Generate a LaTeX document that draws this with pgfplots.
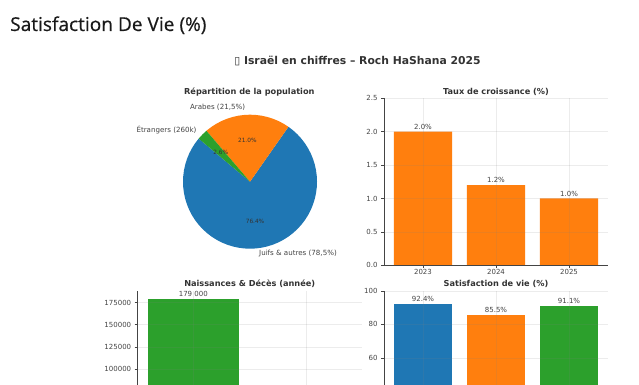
\documentclass[border=0pt]{standalone}
\usepackage{fontspec}
\setmainfont{DejaVu Sans}
\newfontfamily\hdr[FakeBold=0.5]{Open Sans}
\usepackage{pgfplots}
\pgfplotsset{compat=1.18}
\definecolor{cb}{HTML}{1F77B4}
\definecolor{co}{HTML}{FF7F0E}
\definecolor{cg}{HTML}{2CA02C}
\definecolor{tx}{HTML}{444444}
\definecolor{tt}{HTML}{333333}
\pgfplotsset{
  panel/.style={
    scale only axis, width=224pt, height=167pt, anchor=south west,
    axis lines*=left, axis line style={color=tx,line width=0.7pt,-},
    tick style={color=tx,line width=0.5pt}, tick align=outside,
    major tick length=3pt,
    grid=major, grid style={color=gray,opacity=0.15,line width=0.5pt},
    axis on top,
    tick label style={font=\fontsize{7}{8}\selectfont,text=tx},
    xticklabel style={yshift=2.5pt},
    /pgf/number format/assume math mode=true,
    /pgf/number format/1000 sep={},
    /pgf/number format/fixed,
    scaled y ticks=false,
    title style={font=\fontsize{8.2}{9}\selectfont\bfseries,text=tt,at={(0.5,1)},anchor=base,inner sep=0pt,yshift=-2pt},
    ybar, bar width=0.8, 
    point meta=explicit symbolic,
    nodes near coords,
    nodes near coords style={font=\fontsize{7}{8}\selectfont,text=tx,anchor=south,inner sep=2pt},
    clip=false,
  },
  bar/.style={fill=#1,draw=none,bar shift=0pt}
}
\begin{document}
\begin{tikzpicture}[x=1pt,y=1pt]
\path[use as bounding box,clip] (0,0) rectangle (639,385);
\fill[white] (0,0) rectangle (639,385);
\node[anchor=base west,inner sep=0pt,text=black!90] at (10,354) {\hdr\fontsize{19.1}{22}\selectfont Satisfaction De Vie (\%)};
\node[anchor=base,inner sep=0pt,text=tt] at (357.5,320.5) {\fontsize{10.8}{12}\selectfont\bfseries ▯ Israël en chiffres – Roch HaShana 2025};

% pie
\begin{axis}[at={(162.9pt,116.2pt)},anchor=south west,scale only axis,width=174.2pt,height=174.2pt,
  xmin=-1.3,xmax=1.3,ymin=-1.3,ymax=1.3,hide axis,clip=false]
\addplot[fill=cb,draw=none,data cs=polar] coordinates {(0,0) (140,1) (145,1) (150,1) (155,1) (160,1) (165,1) (170,1) (175,1) (180,1) (185,1) (190,1) (195,1) (200,1) (205,1) (210,1) (215,1) (220,1) (225,1) (230,1) (235,1) (240,1) (245,1) (250,1) (255,1) (260,1) (265,1) (270,1) (275,1) (280,1) (285,1) (290,1) (295,1) (300,1) (305,1) (310,1) (315,1) (320,1) (325,1) (330,1) (335,1) (340,1) (345,1) (350,1) (355,1) (360,1) (365,1) (370,1) (375,1) (380,1) (385,1) (390,1) (395,1) (400,1) (405,1) (410,1) (415,1)};
\addplot[fill=co,draw=none,data cs=polar] coordinates {(0,0) (55,1) (60,1) (65,1) (70,1) (75,1) (80,1) (85,1) (90,1) (95,1) (100,1) (105,1) (110,1) (115,1) (120,1) (125,1) (130,1) (130.6,1)};
\addplot[fill=cg,draw=none,data cs=polar] coordinates {(0,0) (130.6,1) (135,1) (140,1)};
\node[text=tx,font=\fontsize{7.1}{8}\selectfont] at (axis cs:-0.484,1.105) {Arabes (21,5\%)};
\node[text=tx,font=\fontsize{7.1}{8}\selectfont] at (axis cs:-1.246,0.77) {Étrangers (260k)};
\node[text=tx,font=\fontsize{7.1}{8}\selectfont] at (axis cs:0.716,-1.076) {Juifs \& autres (78,5\%)};
\node[text=tt,font=\fontsize{5.8}{7}\selectfont] at (axis cs:-0.04,0.61) {21.0\%};
\node[text=tt,font=\fontsize{5.8}{7}\selectfont] at (axis cs:-0.437,0.43) {2.6\%};
\node[text=tt,font=\fontsize{5.8}{7}\selectfont] at (axis cs:0.075,-0.586) {76.4\%};
\node[text=tt,font=\fontsize{8.2}{9}\selectfont\bfseries] at (axis cs:-0.01,1.34) {Répartition de la population};
\end{axis}

% growth
\begin{axis}[panel,at={(384pt,119.7pt)},title={Taux de croissance (\%)},
  xmin=-0.534,xmax=2.534,ymin=0,ymax=2.5,
  xtick={0,1,2},xticklabels={2023,2024,2025},
  ytick={0,0.5,1,1.5,2,2.5},yticklabels={0.0,0.5,1.0,1.5,2.0,2.5}]
\addplot[bar=co] coordinates {(0,2.0)[2.0\%] (1,1.2)[1.2\%] (2,1.0)[1.0\%]};
\end{axis}

% births
\begin{axis}[panel,at={(137.7pt,-73pt)},title={Naissances \& Décès (année)},
  xmin=-0.492,xmax=1.49,ymin=0,ymax=187950,
  xtick={0,1},xticklabels={},
  ytick={100000,125000,150000,175000}]
\addplot[bar=cg] coordinates {(0,179000)[179 000]};
\end{axis}

% satisfaction
\begin{axis}[panel,at={(384pt,-73pt)},title={Satisfaction de vie (\%)},
  xmin=-0.534,xmax=2.534,ymin=0,ymax=100,
  xtick={0,1,2},xticklabels={},
  ytick={60,80,100}]
\addplot[bar=cb] coordinates {(0,92.4)[92.4\%]};
\addplot[bar=co] coordinates {(1,85.5)[85.5\%]};
\addplot[bar=cg] coordinates {(2,91.1)[91.1\%]};
\end{axis}
\end{tikzpicture}
\end{document}
